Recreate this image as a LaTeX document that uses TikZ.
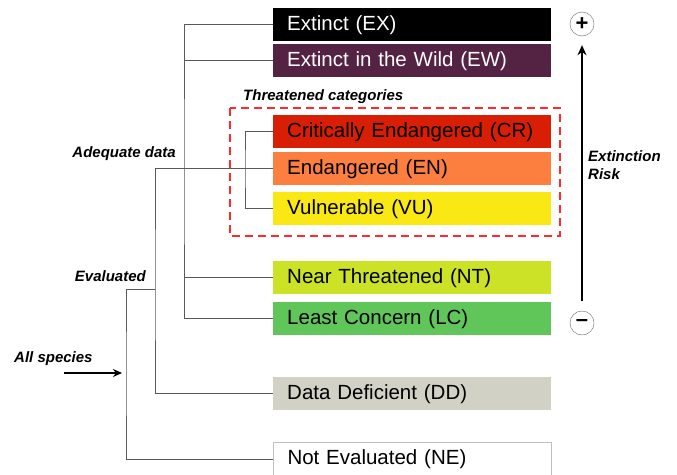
\documentclass[tikz,border=0pt]{standalone}
\usepackage{fontspec}
\setmainfont{Liberation Sans}
\usepackage{tikz}
\usepackage{xcolor}
\usetikzlibrary{arrows.meta}

\definecolor{ewcol}{HTML}{542344}
\definecolor{crcol}{HTML}{D81E05}
\definecolor{encol}{HTML}{FC7F3F}
\definecolor{vucol}{HTML}{F9E814}
\definecolor{ntcol}{HTML}{CCE226}
\definecolor{lccol}{HTML}{60C659}
\definecolor{ddcol}{HTML}{D1D1C6}
\definecolor{dashred}{HTML}{FF2A2A}

\tikzset{
    catbox/.style={anchor=north west, minimum height=33pt, text width=250pt, inner xsep=14pt,
        inner ysep=0pt, align=left, font=\fontsize{20.5}{24}\selectfont},
    tag/.style={font=\fontsize{15}{18.5}\selectfont\bfseries\itshape, inner sep=0pt},
    branch/.style={draw=black!65, line width=0.8pt},
    riskmark/.style={circle, draw=black!60, minimum size=24pt, inner sep=0pt,
        font=\fontsize{22}{22}\selectfont\bfseries},
}

\begin{document}
\begin{tikzpicture}[x=1pt, y=-1pt]
        \useasboundingbox (0,0) rectangle (677,474);

        \node[catbox, fill=black, text=white] at (273, 8) (ex) {Extinct (EX)};
        \node[catbox, fill=ewcol, text=white] at (273, 44) (ew) {Extinct in the Wild (EW)};
        \node[catbox, fill=crcol] at (273, 115) (cr) {Critically Endangered (CR)};
        \node[catbox, fill=encol] at (273, 152) (en) {Endangered (EN)};
        \node[catbox, fill=vucol] at (273, 192) (vu) {Vulnerable (VU)};
        \node[catbox, fill=ntcol] at (273, 261) (nt) {Near Threatened (NT)};
        \node[catbox, fill=lccol] at (273, 302) (lc) {Least Concern (LC)};
        \node[catbox, fill=ddcol] at (273, 377) (dd) {Data Deficient (DD)};
        \node[catbox, draw=black!25, line width=1pt] at (273, 442) (ne) {Not Evaluated (NE)};

        \coordinate (adq) at (184, 172);
        \coordinate (evl) at (155, 289);
        \coordinate (all) at (126, 373);
        \coordinate (thr) at (245, 168);
        \coordinate (src) at (64, 373);

        \draw[branch] (ex.west) -| (adq) |- (lc.west);
        \draw[branch] (ew.west) -- (ew.west -| adq)
            (nt.west) -- (nt.west -| adq);
        \draw[branch] (cr.west) -| (thr) |- (vu.west);
        \draw[branch] (en.west) -| (evl) |- (dd.west);
        \draw[branch] (evl) -| (all) |- (ne.west);
        \draw[-{Stealth[length=9pt, width=8pt]}, line width=1.4pt, shorten >=4pt] (src) -- (all);

        \draw[dashred, dashed, dash pattern=on 8pt off 5pt, line width=1.4pt] (230, 108) rectangle (560, 236);

        \node[tag, anchor=west] at (243, 97) (thrlbl) {Threatened categories};
        \node[tag, anchor=east] at (176, 154) (adqlbl) {Adequate data};
        \node[tag, anchor=east] at (146, 276) (evllbl) {Evaluated};
        \node[tag, anchor=west] at (14, 359) (alllbl) {All species};

        \node[riskmark] at (582, 24) (plus) {+};
        \node[riskmark] at (582, 323) (minus) {--};
        \draw[-{Stealth[length=10pt, width=9pt]}, line width=1.5pt, shorten >=9pt, shorten <=10pt] (minus) -- (plus);
        \node[tag, anchor=north west, align=left] at (588, 150) (risk) {Extinction\\Risk};
    \end{tikzpicture}
\end{document}
